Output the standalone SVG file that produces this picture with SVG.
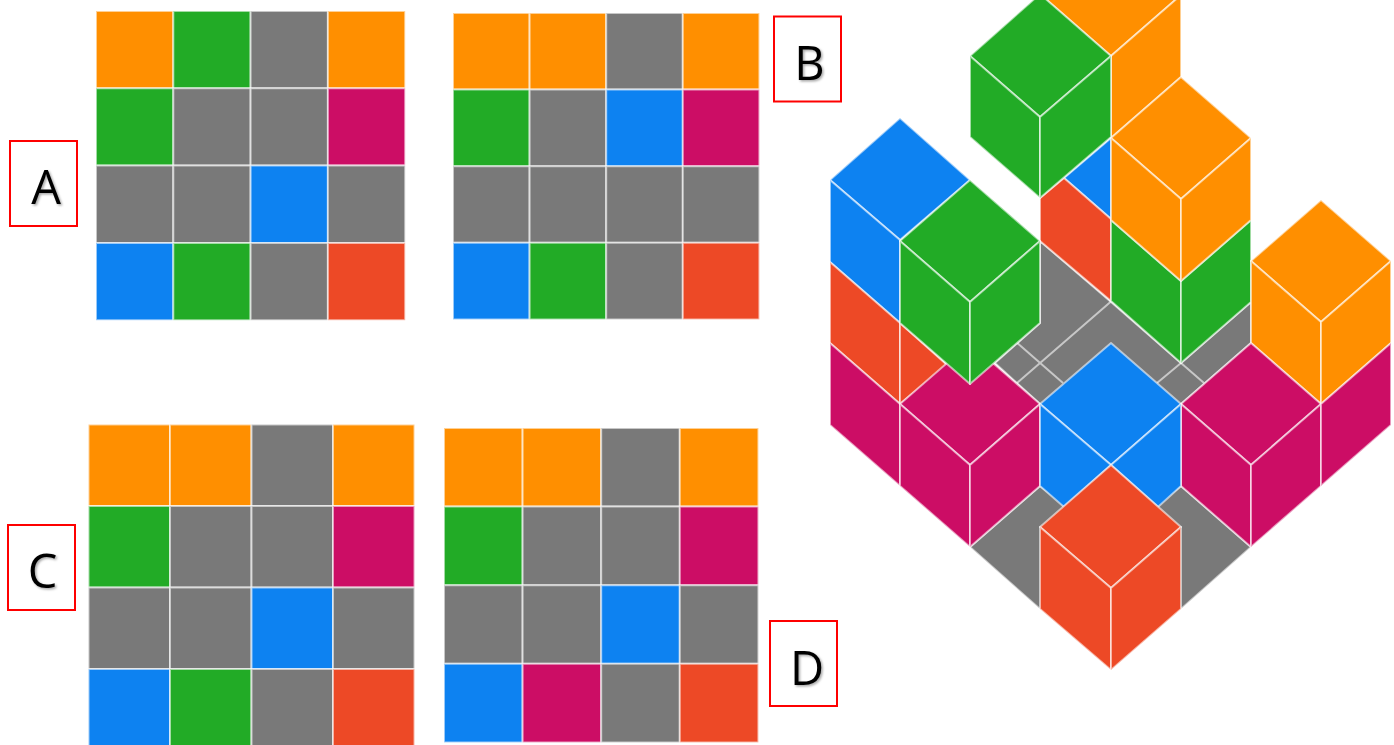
<svg xmlns="http://www.w3.org/2000/svg" width="1394" height="745" viewBox="0 0 1394 745">
<defs>
<filter id="sh" x="-30%" y="-30%" width="170%" height="170%"><feDropShadow dx="1.5" dy="1.5" stdDeviation="1.2" flood-color="#000" flood-opacity="0.35"/></filter>
<filter id="soft" x="-2%" y="-2%" width="104%" height="104%"><feGaussianBlur stdDeviation="0.45"/></filter>
</defs>
<style>
.o{fill:#FF8F00}.g{fill:#23AB28}.x{fill:#797979}.m{fill:#CC1065}.b{fill:#0F82F1}.r{fill:#ED4925}
polygon,rect.c{stroke:#fff;stroke-opacity:.58;stroke-width:2;stroke-linejoin:round}
.ln{fill:none;stroke:#fff;stroke-opacity:.58;stroke-width:2}
.box{fill:#fff;stroke:#FE0000;stroke-width:2}
.lab{font-family:"Open Sans","Liberation Sans",sans-serif;font-size:47px;fill:#000;text-anchor:middle;filter:url(#sh)}
.art{filter:url(#soft)}
</style>
<g id="grid-a" class="art">
<rect class="c o" x="96" y="11" width="77.300" height="77.300"/><rect class="c g" x="173.300" y="11" width="77.300" height="77.300"/><rect class="c x" x="250.600" y="11" width="77.300" height="77.300"/><rect class="c o" x="327.900" y="11" width="77.300" height="77.300"/>
<rect class="c g" x="96" y="88.300" width="77.300" height="77.300"/><rect class="c x" x="173.300" y="88.300" width="77.300" height="77.300"/><rect class="c x" x="250.600" y="88.300" width="77.300" height="77.300"/><rect class="c m" x="327.900" y="88.300" width="77.300" height="77.300"/>
<rect class="c x" x="96" y="165.600" width="77.300" height="77.300"/><rect class="c x" x="173.300" y="165.600" width="77.300" height="77.300"/><rect class="c b" x="250.600" y="165.600" width="77.300" height="77.300"/><rect class="c x" x="327.900" y="165.600" width="77.300" height="77.300"/>
<rect class="c b" x="96" y="242.900" width="77.300" height="77.300"/><rect class="c g" x="173.300" y="242.900" width="77.300" height="77.300"/><rect class="c x" x="250.600" y="242.900" width="77.300" height="77.300"/><rect class="c r" x="327.900" y="242.900" width="77.300" height="77.300"/>
</g>
<g id="grid-b" class="art">
<rect class="c o" x="453" y="13" width="76.600" height="76.600"/><rect class="c o" x="529.600" y="13" width="76.600" height="76.600"/><rect class="c x" x="606.200" y="13" width="76.600" height="76.600"/><rect class="c o" x="682.800" y="13" width="76.600" height="76.600"/>
<rect class="c g" x="453" y="89.600" width="76.600" height="76.600"/><rect class="c x" x="529.600" y="89.600" width="76.600" height="76.600"/><rect class="c b" x="606.200" y="89.600" width="76.600" height="76.600"/><rect class="c m" x="682.800" y="89.600" width="76.600" height="76.600"/>
<rect class="c x" x="453" y="166.200" width="76.600" height="76.600"/><rect class="c x" x="529.600" y="166.200" width="76.600" height="76.600"/><rect class="c x" x="606.200" y="166.200" width="76.600" height="76.600"/><rect class="c x" x="682.800" y="166.200" width="76.600" height="76.600"/>
<rect class="c b" x="453" y="242.800" width="76.600" height="76.600"/><rect class="c g" x="529.600" y="242.800" width="76.600" height="76.600"/><rect class="c x" x="606.200" y="242.800" width="76.600" height="76.600"/><rect class="c r" x="682.800" y="242.800" width="76.600" height="76.600"/>
</g>
<g id="grid-c" class="art">
<rect class="c o" x="88.500" y="424.500" width="81.500" height="81.500"/><rect class="c o" x="170" y="424.500" width="81.500" height="81.500"/><rect class="c x" x="251.500" y="424.500" width="81.500" height="81.500"/><rect class="c o" x="333" y="424.500" width="81.500" height="81.500"/>
<rect class="c g" x="88.500" y="506" width="81.500" height="81.500"/><rect class="c x" x="170" y="506" width="81.500" height="81.500"/><rect class="c x" x="251.500" y="506" width="81.500" height="81.500"/><rect class="c m" x="333" y="506" width="81.500" height="81.500"/>
<rect class="c x" x="88.500" y="587.500" width="81.500" height="81.500"/><rect class="c x" x="170" y="587.500" width="81.500" height="81.500"/><rect class="c b" x="251.500" y="587.500" width="81.500" height="81.500"/><rect class="c x" x="333" y="587.500" width="81.500" height="81.500"/>
<rect class="c b" x="88.500" y="669" width="81.500" height="81.500"/><rect class="c g" x="170" y="669" width="81.500" height="81.500"/><rect class="c x" x="251.500" y="669" width="81.500" height="81.500"/><rect class="c r" x="333" y="669" width="81.500" height="81.500"/>
</g>
<g id="grid-d" class="art">
<rect class="c o" x="444" y="428" width="78.600" height="78.600"/><rect class="c o" x="522.600" y="428" width="78.600" height="78.600"/><rect class="c x" x="601.200" y="428" width="78.600" height="78.600"/><rect class="c o" x="679.800" y="428" width="78.600" height="78.600"/>
<rect class="c g" x="444" y="506.600" width="78.600" height="78.600"/><rect class="c x" x="522.600" y="506.600" width="78.600" height="78.600"/><rect class="c x" x="601.200" y="506.600" width="78.600" height="78.600"/><rect class="c m" x="679.800" y="506.600" width="78.600" height="78.600"/>
<rect class="c x" x="444" y="585.200" width="78.600" height="78.600"/><rect class="c x" x="522.600" y="585.200" width="78.600" height="78.600"/><rect class="c b" x="601.200" y="585.200" width="78.600" height="78.600"/><rect class="c x" x="679.800" y="585.200" width="78.600" height="78.600"/>
<rect class="c b" x="444" y="663.800" width="78.600" height="78.600"/><rect class="c m" x="522.600" y="663.800" width="78.600" height="78.600"/><rect class="c x" x="601.200" y="663.800" width="78.600" height="78.600"/><rect class="c r" x="679.800" y="663.800" width="78.600" height="78.600"/>
</g>
<g id="label-a"><rect class="box" x="10" y="141" width="67" height="85"/><text class="lab" x="46" y="204">A</text></g>
<g id="label-b"><rect class="box" x="774" y="16.500" width="67" height="85"/><text class="lab" x="809.500" y="80">B</text></g>
<g id="label-c"><rect class="box" x="8" y="525" width="67" height="85"/><text class="lab" x="42.500" y="588">C</text></g>
<g id="label-d"><rect class="box" x="770" y="621" width="67" height="85"/><text class="lab" x="807" y="685">D</text></g>
<g id="iso" class="art">
<polygon class="x" points="1040,241 1110.700,301.700 1181,363 1251,302 1251,343 1181,404 1040,404 995,363 1040,323"/>
<path class="ln" d="M1110.700 301.700L1017 383M1017 342.700L1063 383M1181 363L1157 383M1181 363L1204 383"/>
<polygon class="x" points="1040,486 1111,540 1181,486 1251,547 1181,609 1040,609 970,547"/>
<polygon class="o" points="1040,-6 1111,-67 1181,-5 1111,56"/>
<polygon class="o" points="1111,56 1181,-5 1181,77 1111,138"/>
<polygon class="b" points="1111,138 1111,219 1064,178"/>
<polygon class="r" points="1040,198 1064,178 1111,219 1111,301 1040,241"/>
<polygon class="g" points="1040,-6 1111,56 1040,117 970,56"/>
<polygon class="g" points="970,56 1040,117 1040,198 970,137"/>
<polygon class="g" points="1040,117 1111,56 1111,137 1040,198"/>
<polygon class="g" points="1111,220 1181,281 1181,363 1111,301"/>
<polygon class="g" points="1181,281 1251,220 1251,302 1181,363"/>
<polygon class="o" points="1181,77 1251,138 1181,199 1111,138"/>
<polygon class="o" points="1111,138 1181,199 1181,281 1111,220"/>
<polygon class="o" points="1181,199 1251,138 1251,220 1181,281"/>
<polygon class="b" points="900,118 970,180 900,240 830,180"/>
<polygon class="b" points="830,180 900,240 900,323 830,262"/>
<polygon class="r" points="830,262 900,323 900,404 830,343"/>
<polygon class="r" points="900,323 947,365 900,404"/>
<polygon class="m" points="830,343 900,404 900,486 830,425"/>
<polygon class="m" points="900,404 970,343 1040,404 970,465"/>
<polygon class="m" points="900,404 970,465 970,547 900,486"/>
<polygon class="m" points="970,465 1040,404 1040,486 970,547"/>
<polygon class="g" points="970,180 1040,241 970,302 900,241"/>
<polygon class="g" points="900,241 970,302 970,384 900,323"/>
<polygon class="g" points="970,302 1040,241 1040,323 970,384"/>
<polygon class="o" points="1321,200 1391,261 1321,322 1251,261"/>
<polygon class="o" points="1251,261 1321,322 1321,404 1251,343"/>
<polygon class="o" points="1321,322 1391,261 1391,343 1321,404"/>
<polygon class="m" points="1181,404 1251,343 1321,404 1251,465"/>
<polygon class="m" points="1181,404 1251,465 1251,547 1181,486"/>
<polygon class="m" points="1251,465 1321,404 1321,486 1251,547"/>
<polygon class="m" points="1321,404 1391,343 1391,425 1321,486"/>
<polygon class="b" points="1111,343 1181,404 1111,465 1040,404"/>
<polygon class="b" points="1040,404 1111,465 1064,507 1040,486"/>
<polygon class="b" points="1111,465 1181,404 1181,486 1158,507"/>
<polygon class="r" points="1111,465 1181,527 1111,588 1040,527"/>
<polygon class="r" points="1040,527 1111,588 1111,670 1040,609"/>
<polygon class="r" points="1111,588 1181,527 1181,609 1111,670"/>
</g>
</svg>
